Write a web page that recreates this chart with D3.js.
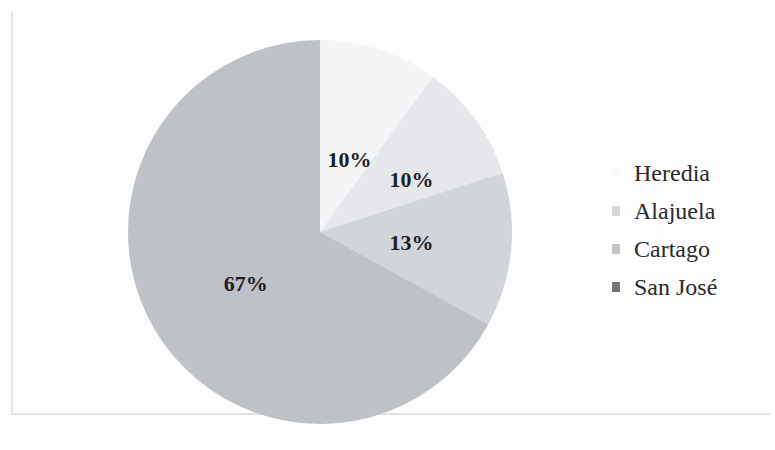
<!DOCTYPE html>
<html>
<head>
<meta charset="utf-8">
<script src="https://cdn.jsdelivr.net/npm/d3@7"></script>
<style>
  body { margin: 0; background: #fdfdfd; }
  svg { display: block; }
</style>
</head>
<body>
<svg id="chart" width="775" height="450"></svg>
<script>
// values
const regions = ["Heredia", "Alajuela", "Cartago", "San José"];
const shares = [10, 10, 13, 67];
const labels = ["10%", "10%", "13%", "67%"];
const fills = ["#f4f5f7", "#e5e7ea", "#d1d4d8", "#bec1c5"];

const width = 775, height = 450;
const cx = 320, cy = 232, radius = 192;

const svg = d3.select("#chart");

// faint frame of the scanned page
svg.append("path")
    .attr("d", "M12,12 L12,414 L770,414")
    .attr("fill", "none")
    .attr("stroke", "#e4e4e4")
    .attr("stroke-width", 2);

const color = d3.scaleOrdinal().domain(regions).range(fills);

const pie = d3.pie().sort(null).value((d, i) => shares[i]);
const arcs = pie(regions);

const arc = d3.arc().innerRadius(0).outerRadius(radius);

const g = svg.append("g").attr("transform", "translate(" + cx + "," + cy + ")");

g.selectAll("path.slice")
    .data(arcs)
    .join("path")
    .attr("class", "slice")
    .attr("d", arc)
    .attr("fill", d => color(d.data));

// label placement tweaks (fraction of radius, angle nudge in degrees)
const labelRadius = [0.41, 0.55, 0.48, 0.47];
const labelNudge = [4, 6, 1, -4];
g.selectAll("text.pct")
    .data(arcs)
    .join("text")
    .attr("class", "pct")
    .attr("transform", (d, i) => {
      const a = (d.startAngle + d.endAngle) / 2 + labelNudge[i] * Math.PI / 180;
      const r = radius * labelRadius[i];
      return "translate(" + (Math.sin(a) * r) + "," + (-Math.cos(a) * r) + ")";
    })
    .attr("text-anchor", "middle")
    .attr("dy", "0.35em")
    .attr("font-family", "'Liberation Serif', 'Times New Roman', serif")
    .attr("font-weight", "bold")
    .attr("font-size", 22)
    .attr("fill", "#1e1e1e")
    .text((d, i) => labels[i]);

// legend
const legend = svg.append("g").attr("transform", "translate(612,173)");
const rowH = 38;
const item = legend.selectAll("g")
    .data(regions)
    .join("g")
    .attr("transform", (d, i) => "translate(0," + (i * rowH) + ")");

item.append("rect")
    .attr("x", 0).attr("y", -5)
    .attr("width", 8).attr("height", 10)
    .attr("fill", (d, i) => i === 0 ? "#fbfbfc" : d3.color(color(d)).darker(i === 3 ? 1.4 : 0.2));

item.append("text")
    .attr("x", 22)
    .attr("dy", "0.35em")
    .attr("font-family", "'Liberation Serif', 'Times New Roman', serif")
    .attr("font-size", 24)
    .attr("fill", "#2a2a2a")
    .text(d => d);
</script>
</body>
</html>
